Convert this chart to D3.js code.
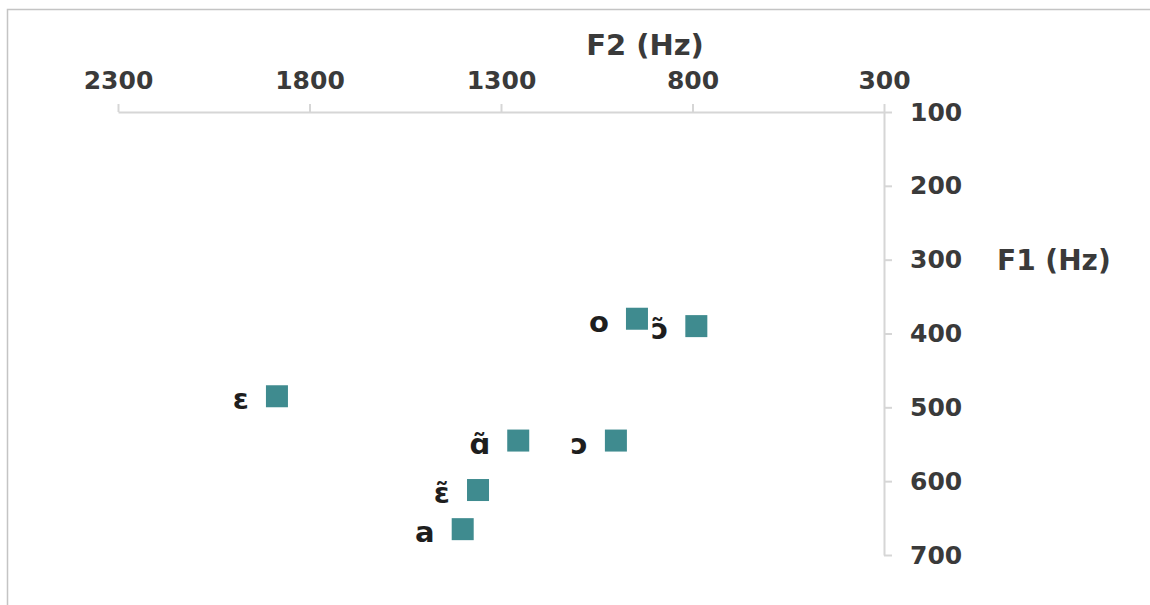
<!DOCTYPE html>
<html>
<head>
<meta charset="utf-8">
<script src="https://cdn.jsdelivr.net/npm/d3@7"></script>
<style>
  html, body { margin: 0; padding: 0; background: #ffffff; }
  svg { display: block; }
</style>
</head>
<body>
<svg id="chart" width="1150" height="605"></svg>
<script>
// ---- data ----
const vowels = ["o", "\u0254\u0303", "\u025B", "\u0251\u0303", "\u0254", "\u025B\u0303", "a"];
const f2Values = [945, 790, 1885, 1255, 1000, 1360, 1400];
const f1Values = [380, 390, 485, 545, 545, 612, 665];
const f2Ticks = [2300, 1800, 1300, 800, 300];
const f1Ticks = [100, 200, 300, 400, 500, 600, 700];
const f2Title = "F2 (Hz)";
const f1Title = "F1 (Hz)";

// ---- layout ----
const svg = d3.select("#chart");
const fontFam = "'DejaVu Sans', Verdana, sans-serif";
const axisColor = "#d6d6d6";
const textColor = "#3a3a3a";
const markerColor = "#3f8b8f";

// frame
svg.append("path")
  .attr("d", "M7.5,605 L7.5,9.5 L1150,9.5")
  .attr("fill", "none")
  .attr("stroke", "#c4c4c4")
  .attr("stroke-width", 1.5);

const x = d3.scaleLinear().domain([2300, 300]).range([118, 884]);
const y = d3.scaleLinear().domain([100, 700]).range([112, 555]);

// top axis (F2)
const gx = svg.append("g")
  .attr("transform", `translate(0,${y(100)})`)
  .call(d3.axisTop(x).tickValues(f2Ticks).tickFormat(d3.format("d"))
        .tickSizeInner(8).tickSizeOuter(0).tickPadding(15));

// right axis (F1)
const gy = svg.append("g")
  .attr("transform", `translate(${x(300)},0)`)
  .call(d3.axisRight(y).tickValues(f1Ticks).tickFormat(d3.format("d"))
        .tickSizeInner(8).tickSizeOuter(0).tickPadding(18));

[gx, gy].forEach(g => {
  g.select(".domain").attr("stroke", axisColor).attr("stroke-width", 2);
  g.selectAll(".tick line").attr("stroke", axisColor).attr("stroke-width", 2);
  g.selectAll(".tick text")
    .attr("fill", textColor)
    .style("font-family", fontFam)
    .style("font-weight", "bold")
    .style("font-size", "25px");
});

// axis titles
svg.append("text")
  .attr("x", 645).attr("y", 55)
  .attr("text-anchor", "middle")
  .attr("fill", textColor)
  .style("font-family", fontFam)
  .style("font-weight", "bold")
  .style("font-size", "29px")
  .text(f2Title);

svg.append("text")
  .attr("x", 997).attr("y", y(300))
  .attr("dy", "0.36em")
  .attr("text-anchor", "start")
  .attr("fill", textColor)
  .style("font-family", fontFam)
  .style("font-weight", "bold")
  .style("font-size", "28px")
  .text(f1Title);

// points
const data = vowels.map((v, i) => ({ v, f2: f2Values[i], f1: f1Values[i] }));
const ms = 22;

svg.append("g").selectAll("rect")
  .data(data)
  .join("rect")
  .attr("x", d => x(d.f2) - ms / 2)
  .attr("y", d => y(d.f1) - ms / 2)
  .attr("width", ms)
  .attr("height", ms)
  .attr("fill", markerColor);

svg.append("g").selectAll("text")
  .data(data)
  .join("text")
  .attr("x", d => x(d.f2) - ms / 2 - 17)
  .attr("y", d => y(d.f1) + 13)
  .attr("text-anchor", "end")
  .attr("fill", "#1e1e1e")
  .style("font-family", fontFam)
  .style("font-weight", "bold")
  .style("font-size", "29px")
  .text(d => d.v);
</script>
</body>
</html>
